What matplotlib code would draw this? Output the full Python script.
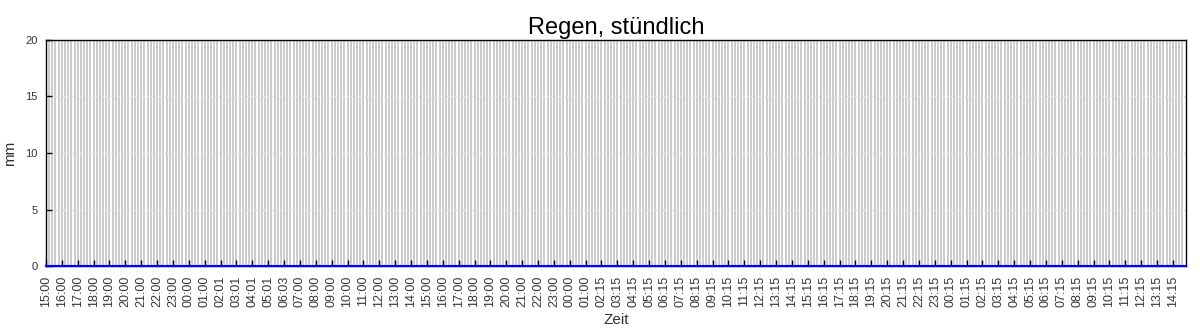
import numpy as np
from matplotlib import pyplot as plt

plt.rcParams["font.family"] = ["Liberation Sans", "DejaVu Sans"]

# hourly tick labels as shown on the x axis
time_labels = (
    ["15:00", "16:00", "17:00", "18:00", "19:00", "20:00", "21:00", "22:00", "23:00",
     "00:00", "01:00", "02:01", "03:01", "04:01", "05:01", "06:03", "07:00", "08:00",
     "09:00", "10:00", "11:00", "12:00", "13:00", "14:00",
     "15:00", "16:00", "17:00", "18:00", "19:00", "20:00", "21:00", "22:00", "23:00",
     "00:00", "01:00"]
    + ["%02d:15" % h for h in range(2, 24)]
    + ["%02d:15" % h for h in range(0, 15)]
)
# rain per hour in mm (all zero)
rain_mm = [0.0] * len(time_labels)

y_ticks = [0, 5, 10, 15, 20]
SUB_STEPS = 5  # stripes per hour

fig = plt.figure(figsize=(12, 3.33), dpi=100)
ax = fig.add_axes([0.0383, 0.201, 0.9497, 0.679])

x = np.arange(len(rain_mm))
x_end = len(rain_mm) - 1 + 0.8
ax.set_xlim(0, x_end)
ax.set_ylim(0, 20)

# dense vertical stripes
for sx in np.arange(0, x_end, 1 / SUB_STEPS):
    ax.axvline(sx, color="#cccccc", lw=1.44, zorder=0, antialiased=False)
for yv in y_ticks[1:-1]:
    ax.axhline(yv, color="#e2e2e2", lw=1, ls=(0, (2, 1)), zorder=1)

ax.plot(np.append(x, x_end), rain_mm + [rain_mm[-1]], color="blue", lw=1.5,
        zorder=3, clip_on=False)

ax.set_xticks(x)
ax.set_xticklabels(time_labels, rotation=90, fontsize=9, color="#333333")
ax.set_yticks(y_ticks)
ax.set_yticklabels([str(v) for v in y_ticks], fontsize=8, color="#333333")
ax.tick_params(direction="in", length=4, width=1, color="black")
ax.tick_params(axis="x", pad=7)
ax.tick_params(axis="y", pad=6)
for s in ax.spines.values():
    s.set_color("black")
    s.set_linewidth(1)

ax.set_title("Regen, stündlich", fontsize=17, pad=4)
ax.set_xlabel("Zeit", fontsize=11, color="#333333", labelpad=4)
ax.set_ylabel("mm", fontsize=11, color="#333333", labelpad=6)

plt.savefig("out.png", dpi=100)
